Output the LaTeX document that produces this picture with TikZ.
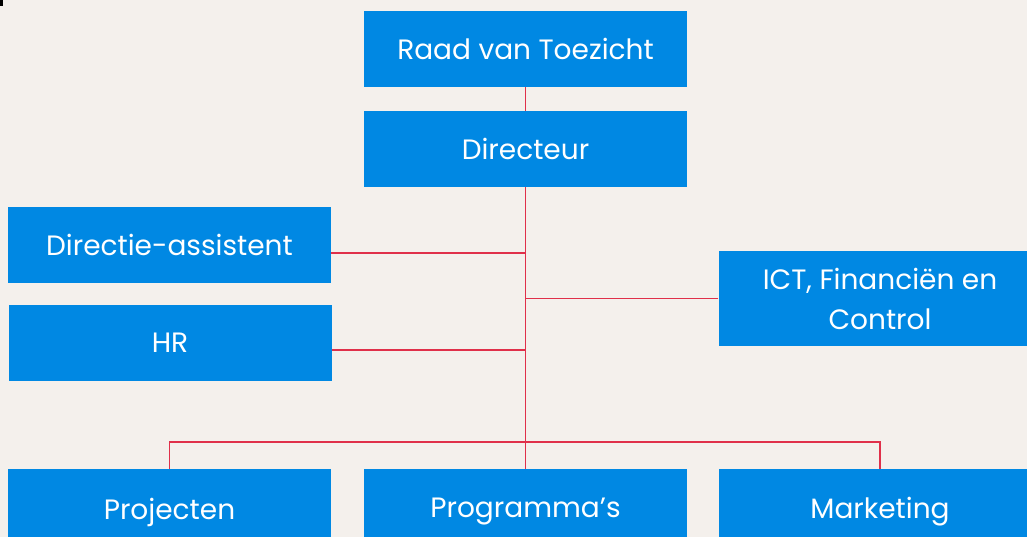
\documentclass[tikz,border=0pt]{standalone}
\usepackage{fontspec}
\setmainfont{Poppins}
\definecolor{bg}{HTML}{F4F0EC}
\definecolor{boxblue}{HTML}{0088E3}
\definecolor{linered}{HTML}{E0304A}
\tikzset{
  unit/.style={fill=boxblue, text=white, minimum width=323pt, minimum height=76pt,
    inner sep=0pt, align=center, font=\fontsize{28}{40}\selectfont},
  conn/.style={draw=linered, line width=1.6pt}
}
\begin{document}
\begin{tikzpicture}[x=1pt,y=1pt]
  \useasboundingbox (0,0) rectangle (1027,537);
  \fill [bg] (0,0) rectangle (1027,537);
  \fill [black] (0,531) rectangle (3,537);
  % boxes
  \node [unit] (raad) at (525.5,488) {Raad van Toezicht};
  \node [unit] (dir) at (525.5,388) {Directeur};
  \node [unit] (assist) at (169.5,292) {Directie-assistent};
  \node [unit] (hr) at (170,194) {HR};
  \node [unit, minimum height=95pt] (ict) at (880,238.5) {ICT, Financiën en\\Control};
  \node [unit, minimum height=86pt] (proj) at (169.5,25) {Projecten};
  \node [unit, minimum height=86pt] (prog) at (525.5,25) {Programma’s};
  \node [unit, minimum height=86pt] (mark) at (880,25) {Marketing};
  \coordinate (bus) at (525,95);
  % lines
  \draw [conn] (raad) -- (dir);
  \draw [conn] (dir) -- (prog);
  \draw [conn] ([yshift=-8pt]assist.east) -- ([yshift=-8pt]assist.east -| dir.south);
  \draw [conn] ([yshift=-7pt]hr.east) -- ([yshift=-7pt]hr.east -| dir.south);
  \draw [conn] (ict.west) -- (ict.west -| dir.south);
  \draw [conn] (proj.north) |- (bus) -| (mark.north);
\end{tikzpicture}
\end{document}
